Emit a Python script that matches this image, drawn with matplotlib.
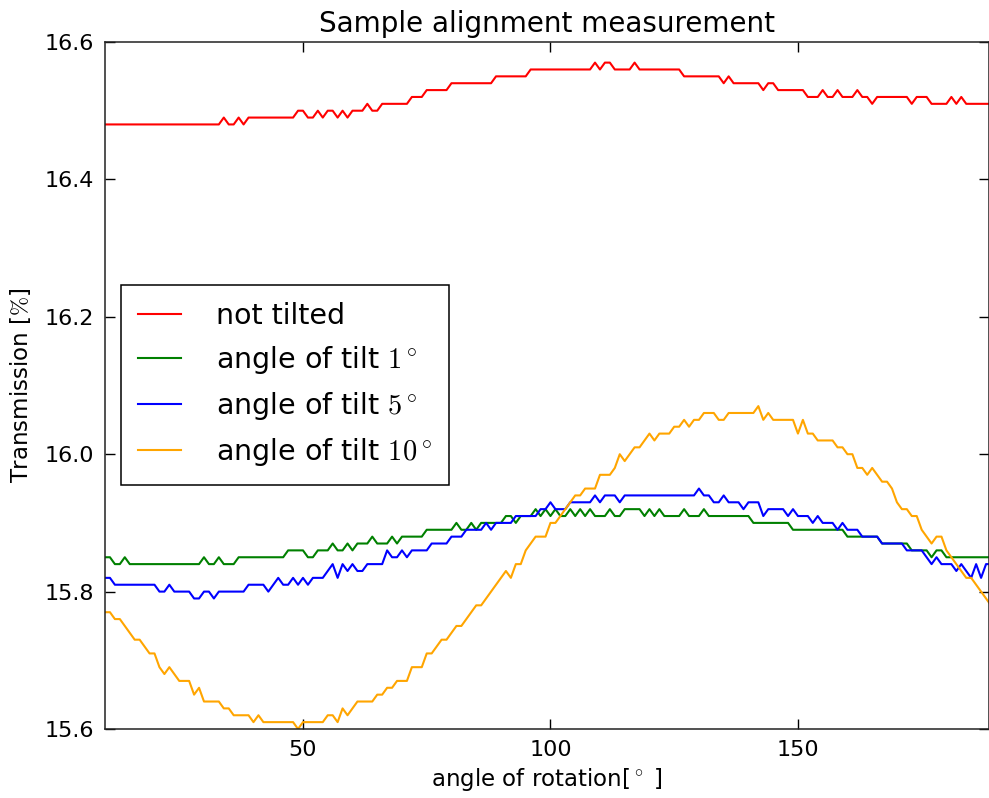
import numpy as np
import matplotlib
matplotlib.use("Agg")
import matplotlib.pyplot as plt

plt.rcParams['font.family'] = ['DejaVu Sans']
plt.rcParams['mathtext.fontset'] = 'cm'

angle = list(range(10, 190))

not_tilted = [
    16.48, 16.48, 16.48, 16.48, 16.48, 16.48, 16.48, 16.48, 16.48, 16.48,
    16.48, 16.48, 16.48, 16.48, 16.48, 16.48, 16.48, 16.48, 16.48, 16.48,
    16.48, 16.48, 16.48, 16.48, 16.49, 16.48, 16.48, 16.49, 16.48, 16.49,
    16.49, 16.49, 16.49, 16.49, 16.49, 16.49, 16.49, 16.49, 16.49, 16.50,
    16.50, 16.49, 16.49, 16.50, 16.49, 16.50, 16.50, 16.49, 16.50, 16.49,
    16.50, 16.50, 16.50, 16.51, 16.50, 16.50, 16.51, 16.51, 16.51, 16.51,
    16.51, 16.51, 16.52, 16.52, 16.52, 16.53, 16.53, 16.53, 16.53, 16.53,
    16.54, 16.54, 16.54, 16.54, 16.54, 16.54, 16.54, 16.54, 16.54, 16.55,
    16.55, 16.55, 16.55, 16.55, 16.55, 16.55, 16.56, 16.56, 16.56, 16.56,
    16.56, 16.56, 16.56, 16.56, 16.56, 16.56, 16.56, 16.56, 16.56, 16.57,
    16.56, 16.57, 16.57, 16.56, 16.56, 16.56, 16.56, 16.57, 16.56, 16.56,
    16.56, 16.56, 16.56, 16.56, 16.56, 16.56, 16.56, 16.55, 16.55, 16.55,
    16.55, 16.55, 16.55, 16.55, 16.55, 16.54, 16.55, 16.54, 16.54, 16.54,
    16.54, 16.54, 16.54, 16.53, 16.54, 16.54, 16.53, 16.53, 16.53, 16.53,
    16.53, 16.53, 16.52, 16.52, 16.52, 16.53, 16.52, 16.52, 16.53, 16.52,
    16.52, 16.52, 16.53, 16.52, 16.52, 16.51, 16.52, 16.52, 16.52, 16.52,
    16.52, 16.52, 16.52, 16.51, 16.52, 16.52, 16.52, 16.51, 16.51, 16.51,
    16.51, 16.52, 16.51, 16.52, 16.51, 16.51, 16.51, 16.51, 16.51, 16.51,
]

tilt_1 = [
    15.85, 15.85, 15.84, 15.84, 15.85, 15.84, 15.84, 15.84, 15.84, 15.84,
    15.84, 15.84, 15.84, 15.84, 15.84, 15.84, 15.84, 15.84, 15.84, 15.84,
    15.85, 15.84, 15.84, 15.85, 15.84, 15.84, 15.84, 15.85, 15.85, 15.85,
    15.85, 15.85, 15.85, 15.85, 15.85, 15.85, 15.85, 15.86, 15.86, 15.86,
    15.86, 15.85, 15.85, 15.86, 15.86, 15.86, 15.87, 15.86, 15.86, 15.87,
    15.86, 15.87, 15.87, 15.87, 15.88, 15.87, 15.87, 15.87, 15.88, 15.87,
    15.88, 15.88, 15.88, 15.88, 15.88, 15.89, 15.89, 15.89, 15.89, 15.89,
    15.89, 15.90, 15.89, 15.89, 15.90, 15.89, 15.90, 15.90, 15.90, 15.90,
    15.90, 15.91, 15.91, 15.90, 15.91, 15.91, 15.91, 15.92, 15.91, 15.92,
    15.91, 15.92, 15.91, 15.91, 15.92, 15.91, 15.92, 15.91, 15.92, 15.91,
    15.91, 15.91, 15.92, 15.91, 15.91, 15.92, 15.92, 15.92, 15.92, 15.91,
    15.92, 15.91, 15.92, 15.91, 15.91, 15.91, 15.91, 15.92, 15.91, 15.91,
    15.91, 15.92, 15.91, 15.91, 15.91, 15.91, 15.91, 15.91, 15.91, 15.91,
    15.91, 15.90, 15.90, 15.90, 15.90, 15.90, 15.90, 15.90, 15.90, 15.89,
    15.89, 15.89, 15.89, 15.89, 15.89, 15.89, 15.89, 15.89, 15.89, 15.89,
    15.88, 15.88, 15.88, 15.88, 15.88, 15.88, 15.88, 15.87, 15.87, 15.87,
    15.87, 15.87, 15.87, 15.86, 15.86, 15.86, 15.86, 15.85, 15.86, 15.86,
    15.85, 15.85, 15.85, 15.85, 15.85, 15.85, 15.85, 15.85, 15.85, 15.85,
]

tilt_5 = [
    15.82, 15.82, 15.81, 15.81, 15.81, 15.81, 15.81, 15.81, 15.81, 15.81,
    15.81, 15.80, 15.80, 15.81, 15.80, 15.80, 15.80, 15.80, 15.79, 15.79,
    15.80, 15.80, 15.79, 15.80, 15.80, 15.80, 15.80, 15.80, 15.80, 15.81,
    15.81, 15.81, 15.81, 15.80, 15.81, 15.82, 15.81, 15.81, 15.82, 15.81,
    15.82, 15.81, 15.82, 15.82, 15.82, 15.83, 15.84, 15.82, 15.84, 15.83,
    15.84, 15.83, 15.83, 15.84, 15.84, 15.84, 15.84, 15.86, 15.85, 15.85,
    15.86, 15.85, 15.86, 15.86, 15.86, 15.86, 15.87, 15.87, 15.87, 15.87,
    15.88, 15.88, 15.88, 15.89, 15.89, 15.89, 15.89, 15.90, 15.89, 15.90,
    15.90, 15.90, 15.90, 15.91, 15.91, 15.91, 15.91, 15.91, 15.92, 15.92,
    15.93, 15.92, 15.92, 15.92, 15.93, 15.93, 15.93, 15.93, 15.93, 15.94,
    15.93, 15.94, 15.94, 15.94, 15.93, 15.94, 15.94, 15.94, 15.94, 15.94,
    15.94, 15.94, 15.94, 15.94, 15.94, 15.94, 15.94, 15.94, 15.94, 15.94,
    15.95, 15.94, 15.94, 15.93, 15.93, 15.94, 15.93, 15.93, 15.93, 15.92,
    15.93, 15.93, 15.93, 15.91, 15.92, 15.92, 15.92, 15.92, 15.91, 15.92,
    15.91, 15.91, 15.91, 15.90, 15.91, 15.90, 15.90, 15.90, 15.89, 15.90,
    15.89, 15.89, 15.89, 15.88, 15.88, 15.88, 15.88, 15.87, 15.87, 15.87,
    15.87, 15.87, 15.86, 15.86, 15.86, 15.86, 15.85, 15.84, 15.85, 15.84,
    15.84, 15.84, 15.83, 15.84, 15.83, 15.82, 15.84, 15.82, 15.84, 15.84,
]

tilt_10 = [
    15.77, 15.77, 15.76, 15.76, 15.75, 15.74, 15.73, 15.73, 15.72, 15.71,
    15.71, 15.69, 15.68, 15.69, 15.68, 15.67, 15.67, 15.67, 15.65, 15.66,
    15.64, 15.64, 15.64, 15.64, 15.63, 15.63, 15.62, 15.62, 15.62, 15.62,
    15.61, 15.62, 15.61, 15.61, 15.61, 15.61, 15.61, 15.61, 15.61, 15.60,
    15.61, 15.61, 15.61, 15.61, 15.61, 15.62, 15.62, 15.61, 15.63, 15.62,
    15.63, 15.64, 15.64, 15.64, 15.64, 15.65, 15.65, 15.66, 15.66, 15.67,
    15.67, 15.67, 15.69, 15.69, 15.69, 15.71, 15.71, 15.72, 15.73, 15.73,
    15.74, 15.75, 15.75, 15.76, 15.77, 15.78, 15.78, 15.79, 15.80, 15.81,
    15.82, 15.83, 15.82, 15.84, 15.84, 15.86, 15.87, 15.88, 15.88, 15.88,
    15.90, 15.90, 15.91, 15.92, 15.93, 15.94, 15.94, 15.95, 15.95, 15.95,
    15.97, 15.97, 15.97, 15.98, 16.00, 15.99, 16.00, 16.01, 16.01, 16.02,
    16.03, 16.02, 16.03, 16.03, 16.03, 16.04, 16.04, 16.05, 16.04, 16.05,
    16.05, 16.06, 16.06, 16.06, 16.05, 16.05, 16.06, 16.06, 16.06, 16.06,
    16.06, 16.06, 16.07, 16.05, 16.06, 16.05, 16.05, 16.05, 16.05, 16.05,
    16.03, 16.05, 16.03, 16.03, 16.02, 16.02, 16.02, 16.02, 16.01, 16.01,
    16.00, 16.00, 15.98, 15.98, 15.97, 15.98, 15.97, 15.96, 15.96, 15.95,
    15.93, 15.92, 15.92, 15.91, 15.91, 15.89, 15.88, 15.87, 15.88, 15.88,
    15.86, 15.85, 15.84, 15.83, 15.82, 15.82, 15.81, 15.80, 15.79, 15.78,
]

labels = ["not tilted", r"angle of tilt $1^\circ$",
          r"angle of tilt $5^\circ$", r"angle of tilt $10^\circ$"]
colors = ["#ff0000", "#008000", "#0000ff", "#ffa500"]
series = [not_tilted, tilt_1, tilt_5, tilt_10]

fig = plt.figure(figsize=(9.89, 7.98), dpi=100)
ax = fig.add_axes([105 / 989, 1 - 729 / 798, 1 - 105 / 989, (729 - 42) / 798])

for ys, lab, c in zip(series, labels, colors):
    ax.plot(angle, ys, color=c, lw=1.5, label=lab)

ax.set_xlim(10, 188.6)
ax.set_ylim(15.6, 16.6)
ax.set_xticks([50, 100, 150])
ax.set_yticks([15.6, 15.8, 16.0, 16.2, 16.4, 16.6])
ax.set_yticklabels(["15.6", "15.8", "16.0", "16.2", "16.4", "16.6"])
ax.tick_params(direction="in", length=7, width=1, top=True, right=True,
               labelsize=16, pad=8, colors="black")
for sp in ax.spines.values():
    sp.set_linewidth(1.1)
    sp.set_color("#222222")

ax.set_title("Sample alignment measurement", fontsize=20, pad=7)
ax.set_xlabel(r"angle of rotation[$^\circ$ ]", fontsize=16.5, labelpad=4)
ax.set_ylabel(r"Transmission [$\%$]", fontsize=16.5, labelpad=8)

leg = ax.legend(loc="upper left", bbox_to_anchor=(0.018, 0.647), fontsize=20.5,
                frameon=True, fancybox=False, shadow=False, framealpha=1,
                edgecolor="black", handlelength=1.5, handletextpad=1.25,
                labelspacing=0.5, borderpad=0.6, borderaxespad=0)
leg.get_frame().set_linewidth(1.1)

fig.savefig("out.png", dpi=100)
